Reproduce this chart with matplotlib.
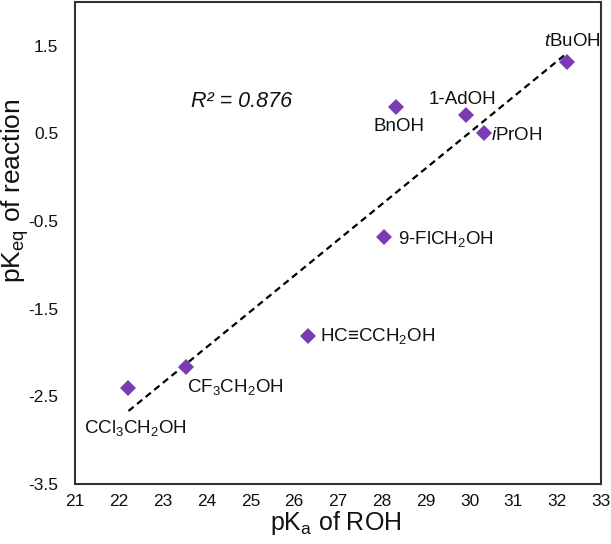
import numpy as np
import matplotlib
matplotlib.use("Agg")
import matplotlib.pyplot as plt

plt.rcParams['font.family'] = ['Liberation Sans', 'DejaVu Sans']
plt.rcParams['mathtext.fontset'] = 'custom'
plt.rcParams['mathtext.rm'] = 'Liberation Sans'
plt.rcParams['mathtext.it'] = 'Liberation Sans:italic'
plt.rcParams['mathtext.bf'] = 'Liberation Sans:bold'

# Data
names = ['tBuOH', 'BnOH', '1-AdOH', 'iPrOH', '9-FlCH2OH', 'HC≡CCH2OH', 'CF3CH2OH', 'CCl3CH2OH']
pka = [32.22, 28.32, 29.92, 30.32, 28.04, 26.32, 23.53, 22.22]
pkeq = [1.31, 0.80, 0.71, 0.51, -0.68, -1.81, -2.17, -2.40]
labels = [r'$\mathit{t}$BuOH', 'BnOH', '1-AdOH', r'$\mathit{i}$PrOH',
          r'9-FlCH$_2$OH', r'HC≡CCH$_2$OH', r'CF$_3$CH$_2$OH', r'CCl$_3$CH$_2$OH']
label_xy = [(32.34, 1.55), (28.39, 0.58), (29.83, 0.89), (30.49, 0.475),
            (28.37, -0.70), (26.59, -1.81), (23.56, -2.39), (21.20, -2.86)]
label_ha = ['center', 'center', 'center', 'left', 'left', 'left', 'left', 'left']
xticks = list(range(21, 34))
yticks = [-3.5, -2.5, -1.5, -0.5, 0.5, 1.5]

W, H = 611, 544
fig = plt.figure(figsize=(W / 100, H / 100), dpi=100)
ax = fig.add_axes([75 / W, 1 - 484 / H, (601 - 75) / W, (484 - 2) / H])

# trend line (least-squares fit of the data)
coef = np.polyfit(pka, pkeq, 1)
xf = np.array([min(pka), max(pka)])
ax.plot(xf, np.polyval(coef, xf), linestyle=(0, (3, 2)), color='black', lw=1.6, zorder=2)

ax.plot(pka, pkeq, linestyle='none', marker='D', markersize=8,
        color='#7a3bb5', markeredgewidth=0, zorder=3)

for lab, (lx, ly), ha in zip(labels, label_xy, label_ha):
    ax.text(lx, ly, lab, ha=ha, va='center', fontsize=13.5, color='#111111')

ax.text(24.81, 0.86, 'R² = 0.876', style='italic', ha='center', va='center',
        fontsize=15.5, color='#111111')

ax.set_xlim(21, 33)
ax.set_ylim(-3.5, 2.0)
ax.set_xticks(xticks)
ax.set_yticks(yticks)
ax.set_yticklabels([f'{v:.1f}' for v in yticks])
ax.tick_params(axis='both', length=0, labelsize=12.5, colors='#111111')
ax.tick_params(axis='x', pad=7)
ax.tick_params(axis='y', pad=12)
for s in ax.spines.values():
    s.set_linewidth(1.5)
    s.set_color('#333333')

fig.text(336 / W, 1 - 530 / H, r'pK$_\mathrm{a}$ of ROH', fontsize=18,
         ha='center', va='baseline', color='#111111')
fig.text(15 / W, 1 - 191 / H, r'pK$_\mathrm{eq}$ of reaction', fontsize=19,
         ha='center', va='center', rotation=90, color='#111111')

fig.savefig('out.png', dpi=100)
